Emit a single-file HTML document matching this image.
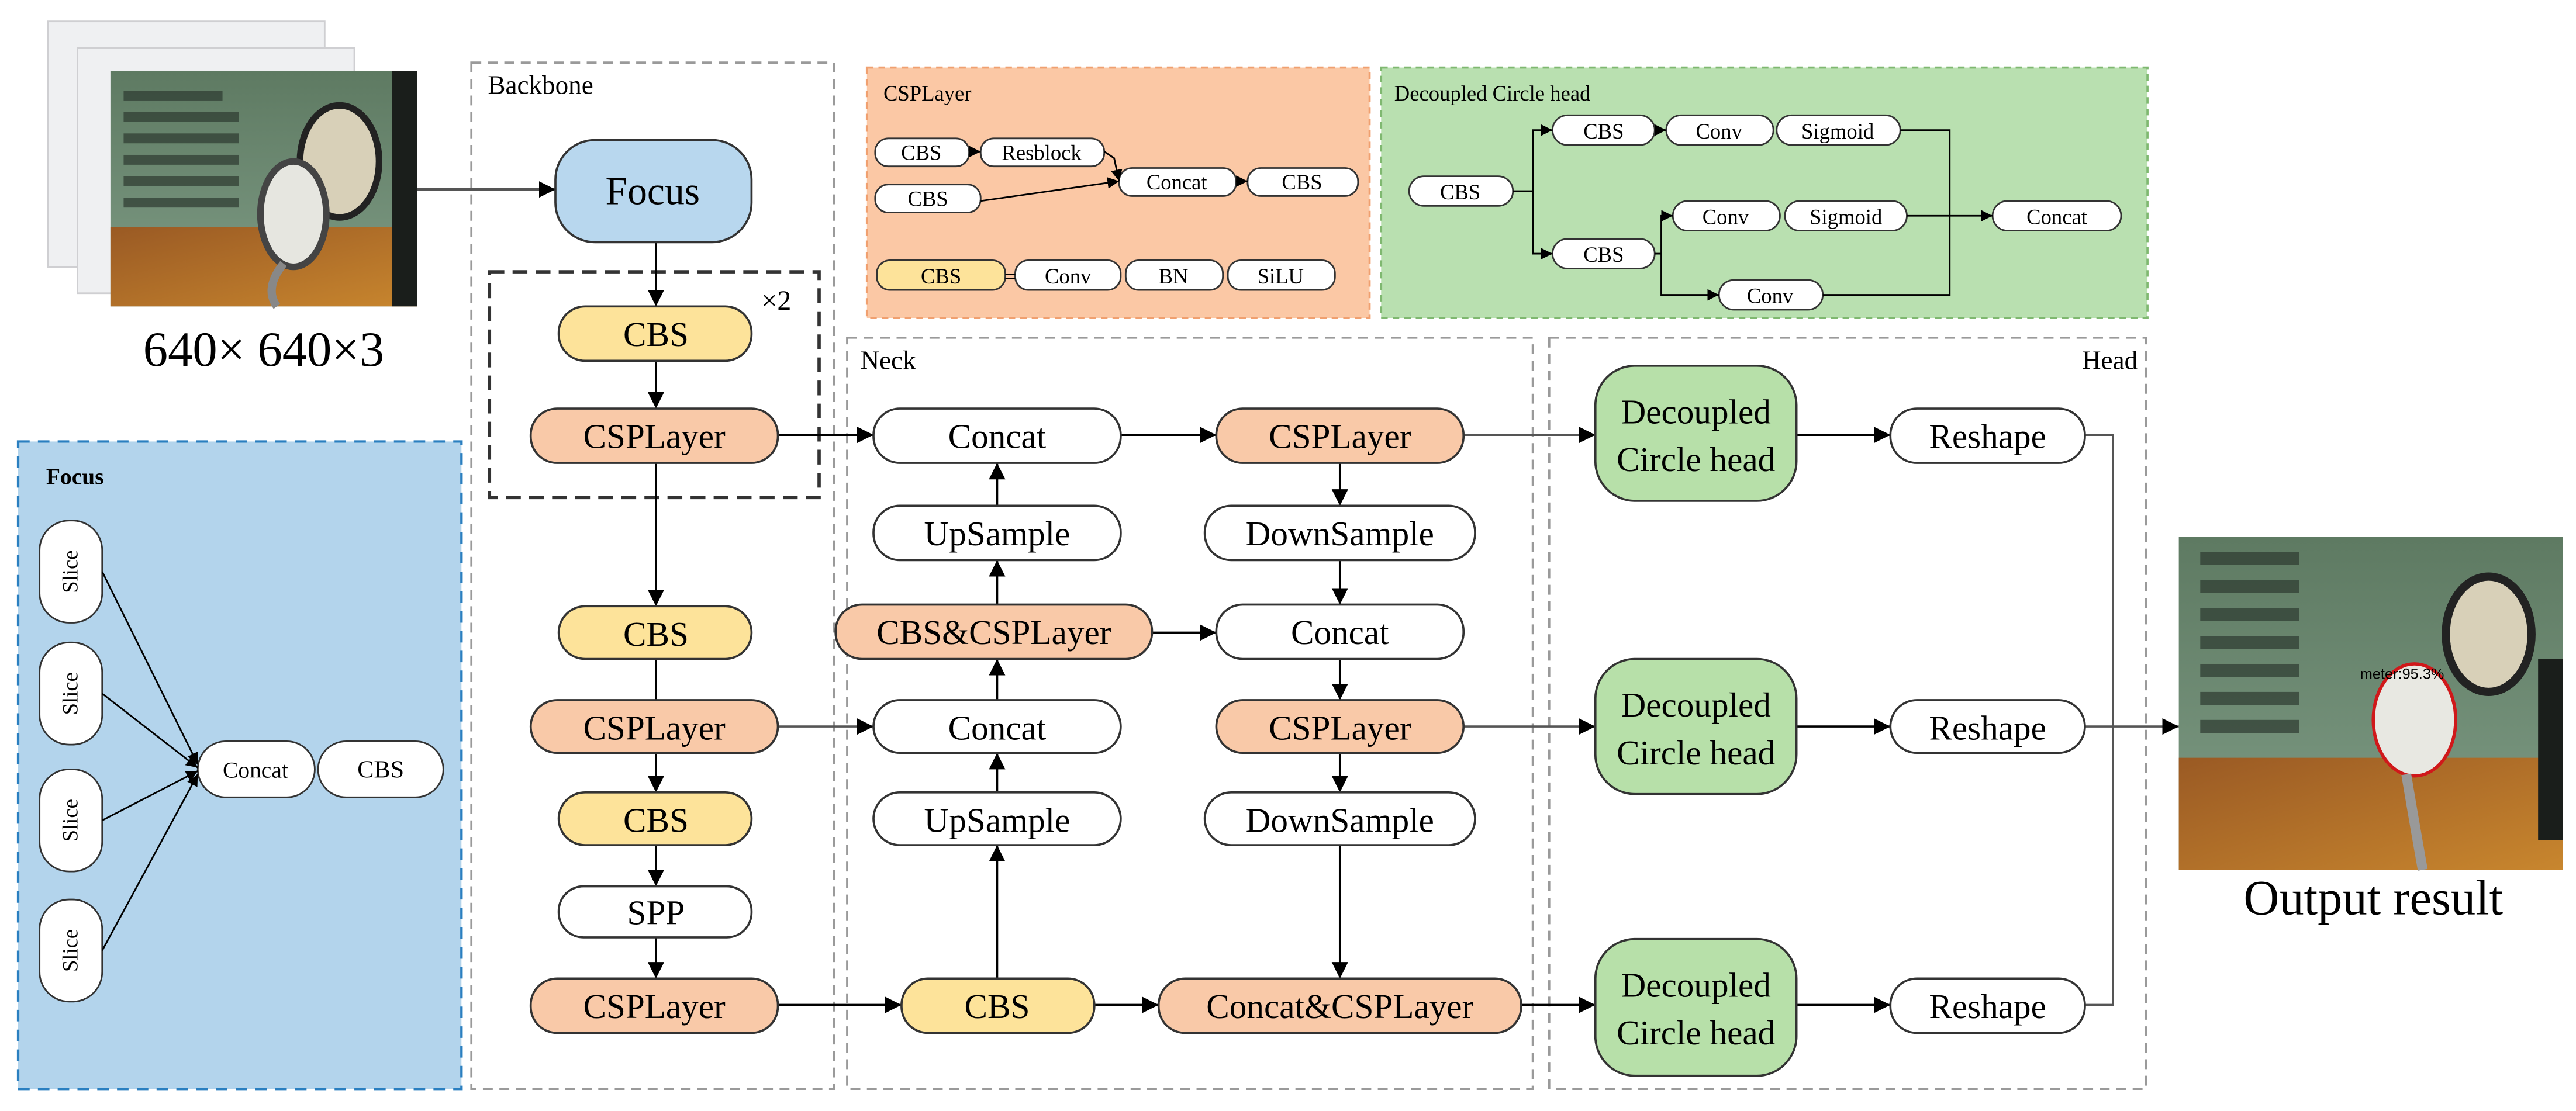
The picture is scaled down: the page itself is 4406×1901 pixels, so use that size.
<!DOCTYPE html>
<html><head><meta charset="utf-8"><style>
html,body{margin:0;padding:0;background:#fff;}
svg{display:block;}
text{font-family:"Liberation Serif",serif;fill:#000;}
</style></head><body>
<svg width="4406" height="1901" viewBox="0 0 1563 674.4" preserveAspectRatio="none" font-family="Liberation Serif, serif" xmlns="http://www.w3.org/2000/svg">
<defs>
<marker id="a" viewBox="0 0 10 10" refX="10" refY="5" markerWidth="7" markerHeight="7" markerUnits="userSpaceOnUse" orient="auto"><path d="M0,0L10,5L0,10z" fill="#000"/></marker>
<marker id="b" viewBox="0 0 10 10" refX="10" refY="5" markerWidth="10" markerHeight="10" markerUnits="userSpaceOnUse" orient="auto"><path d="M0,0L10,5L0,10z" fill="#000"/></marker>
<linearGradient id="glass" x1="0" y1="0" x2="0" y2="1"><stop offset="0" stop-color="#5e7a62"/><stop offset="1" stop-color="#7f9c86"/></linearGradient>
<linearGradient id="wood" x1="0" y1="0" x2="1" y2="1"><stop offset="0" stop-color="#9a5a24"/><stop offset="1" stop-color="#c8862e"/></linearGradient>
</defs>

<rect x="29" y="13" width="168" height="149" fill="#eff0f2" stroke="#cfcfd2"/>
<rect x="47" y="29" width="168" height="149" fill="#eff0f2" stroke="#cfcfd2"/>
<g>
<rect x="67" y="43" width="186" height="143" fill="url(#glass)"/>
<g fill="#2d3a30" opacity="0.7">
<rect x="75" y="55" width="60" height="6"/><rect x="75" y="68" width="70" height="6"/><rect x="75" y="81" width="70" height="6"/><rect x="75" y="94" width="70" height="6"/><rect x="75" y="107" width="70" height="6"/><rect x="75" y="120" width="70" height="6"/>
</g>
<rect x="67" y="138" width="186" height="48" fill="url(#wood)"/>
<rect x="238" y="43" width="15" height="143" fill="#1a1e1b"/>
<ellipse cx="206" cy="98" rx="24" ry="34" fill="#d8d0b8" stroke="#222" stroke-width="4"/>
<ellipse cx="178" cy="130" rx="20" ry="32" fill="#e6e6e0" stroke="#444" stroke-width="4"/>
<path d="M172 160 Q160 175 168 186" stroke="#888" stroke-width="5" fill="none"/>
</g>
<text x="160" y="222" font-size="30" text-anchor="middle">640× 640×3</text>
<line x1="253" y1="115" x2="337" y2="115" stroke="#555" stroke-width="2" marker-end="url(#b)"/>

<rect x="286" y="38" width="220" height="623" fill="none" stroke="#9a9a9a" stroke-width="1.3" stroke-dasharray="6,4"/>
<text x="296" y="57" font-size="16">Backbone</text>
<rect x="297" y="165" width="200" height="137" fill="none" stroke="#333" stroke-width="2" stroke-dasharray="9,5"/>
<text x="462" y="188" font-size="17" fill="#1f5fa8">×2</text>

<rect x="11" y="268" width="269" height="393" fill="#b3d4ec" stroke="#2a7fc0" stroke-width="1.5" stroke-dasharray="7,5"/>
<text x="28" y="294" font-size="14" font-weight="bold">Focus</text>
<g fill="#fff" stroke="#333" stroke-width="1">
<rect x="24" y="316" width="38" height="62" rx="18"/>
<rect x="24" y="390" width="38" height="62" rx="18"/>
<rect x="24" y="467" width="38" height="62" rx="18"/>
<rect x="24" y="546" width="38" height="62" rx="18"/>
<rect x="120" y="450" width="71" height="34" rx="17"/>
<rect x="193" y="450" width="76" height="34" rx="17"/>
</g>
<g font-size="13" text-anchor="middle">
<text transform="translate(47,347) rotate(-90)">Slice</text>
<text transform="translate(47,421) rotate(-90)">Slice</text>
<text transform="translate(47,498) rotate(-90)">Slice</text>
<text transform="translate(47,577) rotate(-90)">Slice</text>
</g>
<text x="155" y="472" font-size="14" text-anchor="middle">Concat</text>
<text x="231" y="472" font-size="15" text-anchor="middle">CBS</text>
<g stroke="#000" stroke-width="1">
<line x1="62" y1="347" x2="120" y2="464" marker-end="url(#a)"/>
<line x1="62" y1="421" x2="120" y2="466" marker-end="url(#a)"/>
<line x1="62" y1="498" x2="120" y2="468" marker-end="url(#a)"/>
<line x1="62" y1="577" x2="120" y2="470" marker-end="url(#a)"/>
</g>

<rect x="526" y="41" width="305" height="152" fill="#fbc8a5" stroke="#f0a070" stroke-width="1.3" stroke-dasharray="4,3"/>
<text x="536" y="61" font-size="13">CSPLayer</text>
<g fill="#fff" stroke="#333" stroke-width="1">
<rect x="531" y="84" width="57" height="17" rx="8"/>
<rect x="595" y="84" width="75" height="17" rx="8"/>
<rect x="531" y="112" width="64" height="17" rx="8"/>
<rect x="679" y="102" width="71" height="17" rx="8"/>
<rect x="757" y="102" width="67" height="17" rx="8"/>
<rect x="532" y="158" width="78" height="18" rx="8" fill="#fde39a"/>
<rect x="616" y="158" width="64" height="18" rx="8"/>
<rect x="683" y="158" width="59" height="18" rx="8"/>
<rect x="745" y="158" width="65" height="18" rx="8"/>
</g>
<g font-size="13" text-anchor="middle">
<text x="559" y="97">CBS</text><text x="632" y="97">Resblock</text><text x="563" y="125">CBS</text>
<text x="714" y="115">Concat</text><text x="790" y="115">CBS</text>
<text x="571" y="172">CBS</text><text x="613" y="172">=</text><text x="648" y="172">Conv</text><text x="712" y="172">BN</text><text x="777" y="172">SiLU</text>
</g>
<g stroke="#000" stroke-width="1" fill="none">
<line x1="588" y1="92" x2="595" y2="92" marker-end="url(#a)"/>
<polyline points="670,92 676,96 679,110" marker-end="url(#a)"/>
<line x1="595" y1="122" x2="679" y2="110" marker-end="url(#a)"/>
<line x1="750" y1="110" x2="757" y2="110" marker-end="url(#a)"/>
</g>

<rect x="838" y="41" width="465" height="152" fill="#b9e0b0" stroke="#7fb870" stroke-width="1.3" stroke-dasharray="4,3"/>
<text x="846" y="61" font-size="13">Decoupled Circle head</text>
<g fill="#fff" stroke="#333" stroke-width="1">
<rect x="855" y="107" width="63" height="18" rx="9"/>
<rect x="942" y="70" width="62" height="18" rx="9"/>
<rect x="1011" y="70" width="65" height="18" rx="9"/>
<rect x="1078" y="70" width="75" height="18" rx="9"/>
<rect x="942" y="145" width="62" height="18" rx="9"/>
<rect x="1015" y="122" width="65" height="18" rx="9"/>
<rect x="1083" y="122" width="74" height="18" rx="9"/>
<rect x="1209" y="122" width="78" height="18" rx="9"/>
<rect x="1043" y="170" width="63" height="18" rx="9"/>
</g>
<g font-size="13" text-anchor="middle">
<text x="886" y="121">CBS</text><text x="973" y="84">CBS</text><text x="1043" y="84">Conv</text><text x="1115" y="84">Sigmoid</text>
<text x="973" y="159">CBS</text><text x="1047" y="136">Conv</text><text x="1120" y="136">Sigmoid</text><text x="1248" y="136">Concat</text><text x="1074" y="184">Conv</text>
</g>
<g stroke="#000" stroke-width="1" fill="none">
<polyline points="918,116 930,116 930,79 942,79" marker-end="url(#a)"/>
<polyline points="930,116 930,154 942,154" marker-end="url(#a)"/>
<line x1="1004" y1="79" x2="1011" y2="79" marker-end="url(#a)"/>
<polyline points="1153,79 1183,79 1183,179 1106,179"/>
<line x1="1157" y1="131" x2="1209" y2="131" marker-end="url(#a)"/>
<polyline points="1004,154 1008,154 1008,131 1015,131" marker-end="url(#a)"/>
<polyline points="1008,154 1008,179 1043,179" marker-end="url(#a)"/>
</g>

<rect x="514" y="205" width="416" height="456" fill="none" stroke="#9a9a9a" stroke-width="1.3" stroke-dasharray="6,4"/>
<text x="522" y="224" font-size="16">Neck</text>
<rect x="940" y="205" width="362" height="456" fill="none" stroke="#9a9a9a" stroke-width="1.3" stroke-dasharray="6,4"/>
<text x="1297" y="224" font-size="16" text-anchor="end">Head</text>

<g stroke="#000" stroke-width="1.3" fill="none">
<line x1="398" y1="147" x2="398" y2="186" marker-end="url(#b)"/>
<line x1="398" y1="219" x2="398" y2="248" marker-end="url(#b)"/>
<line x1="398" y1="281" x2="398" y2="368" marker-end="url(#b)"/>
<line x1="398" y1="400" x2="398" y2="425"/>
<line x1="398" y1="457" x2="398" y2="481" marker-end="url(#b)"/>
<line x1="398" y1="513" x2="398" y2="538" marker-end="url(#b)"/>
<line x1="398" y1="569" x2="398" y2="594" marker-end="url(#b)"/>
<line x1="472" y1="264" x2="530" y2="264" marker-end="url(#b)"/>
<line x1="472" y1="441" x2="530" y2="441" stroke="#555" marker-end="url(#b)"/>
<line x1="472" y1="610" x2="547" y2="610" marker-end="url(#b)"/>
<line x1="605" y1="594" x2="605" y2="513" marker-end="url(#b)"/>
<line x1="605" y1="481" x2="605" y2="457" marker-end="url(#b)"/>
<line x1="605" y1="425" x2="605" y2="400" marker-end="url(#b)"/>
<line x1="605" y1="367" x2="605" y2="340" marker-end="url(#b)"/>
<line x1="605" y1="307" x2="605" y2="281" marker-end="url(#b)"/>
<line x1="680" y1="264" x2="738" y2="264" marker-end="url(#b)"/>
<line x1="813" y1="281" x2="813" y2="307" marker-end="url(#b)"/>
<line x1="813" y1="340" x2="813" y2="367" marker-end="url(#b)"/>
<line x1="699" y1="384" x2="738" y2="384" marker-end="url(#b)"/>
<line x1="813" y1="400" x2="813" y2="425" marker-end="url(#b)"/>
<line x1="813" y1="457" x2="813" y2="481" marker-end="url(#b)"/>
<line x1="813" y1="513" x2="813" y2="594" marker-end="url(#b)"/>
<line x1="664" y1="610" x2="703" y2="610" marker-end="url(#b)"/>
<line x1="888" y1="264" x2="968" y2="264" stroke="#555" marker-end="url(#b)"/>
<line x1="888" y1="441" x2="968" y2="441" stroke="#555" marker-end="url(#b)"/>
<line x1="923" y1="610" x2="968" y2="610" marker-end="url(#b)"/>
<line x1="1090" y1="264" x2="1147" y2="264" marker-end="url(#b)"/>
<line x1="1090" y1="441" x2="1147" y2="441" marker-end="url(#b)"/>
<line x1="1090" y1="610" x2="1147" y2="610" marker-end="url(#b)"/>
<polyline points="1265,264 1282,264 1282,610 1265,610" stroke="#555"/>
<line x1="1265" y1="441" x2="1322" y2="441" stroke="#555" marker-end="url(#b)"/>
</g>

<g stroke="#333" stroke-width="1.3">
<rect x="337" y="85" width="119" height="62" rx="24" fill="#b8d7ee"/>
<rect x="339" y="186" width="117" height="33" rx="16" fill="#fde39a"/>
<rect x="322" y="248" width="150" height="33" rx="16" fill="#f9c9a8"/>
<rect x="339" y="368" width="117" height="32" rx="16" fill="#fde39a"/>
<rect x="322" y="425" width="150" height="32" rx="16" fill="#f9c9a8"/>
<rect x="339" y="481" width="117" height="32" rx="16" fill="#fde39a"/>
<rect x="339" y="538" width="117" height="31" rx="15" fill="#fff"/>
<rect x="322" y="594" width="150" height="33" rx="16" fill="#f9c9a8"/>
<rect x="530" y="248" width="150" height="33" rx="16" fill="#fff"/>
<rect x="738" y="248" width="150" height="33" rx="16" fill="#f9c9a8"/>
<rect x="530" y="307" width="150" height="33" rx="16" fill="#fff"/>
<rect x="731" y="307" width="164" height="33" rx="16" fill="#fff"/>
<rect x="507" y="367" width="192" height="33" rx="16" fill="#f9c9a8"/>
<rect x="738" y="367" width="150" height="33" rx="16" fill="#fff"/>
<rect x="530" y="425" width="150" height="32" rx="16" fill="#fff"/>
<rect x="738" y="425" width="150" height="32" rx="16" fill="#f9c9a8"/>
<rect x="530" y="481" width="150" height="32" rx="16" fill="#fff"/>
<rect x="731" y="481" width="164" height="32" rx="16" fill="#fff"/>
<rect x="547" y="594" width="117" height="33" rx="16" fill="#fde39a"/>
<rect x="703" y="594" width="220" height="33" rx="16" fill="#f9c9a8"/>
<rect x="968" y="222" width="122" height="82" rx="24" fill="#b7e0a9"/>
<rect x="968" y="400" width="122" height="82" rx="24" fill="#b7e0a9"/>
<rect x="968" y="570" width="122" height="83" rx="24" fill="#b7e0a9"/>
<rect x="1147" y="248" width="118" height="33" rx="16" fill="#fff"/>
<rect x="1147" y="425" width="118" height="32" rx="16" fill="#fff"/>
<rect x="1147" y="594" width="118" height="33" rx="16" fill="#fff"/>
</g>
<g font-size="21" text-anchor="middle">
<text x="396" y="124" font-size="24">Focus</text>
<text x="398" y="210">CBS</text>
<text x="397" y="272">CSPLayer</text>
<text x="398" y="392">CBS</text>
<text x="397" y="449">CSPLayer</text>
<text x="398" y="505">CBS</text>
<text x="398" y="561">SPP</text>
<text x="397" y="618">CSPLayer</text>
<text x="605" y="272">Concat</text>
<text x="813" y="272">CSPLayer</text>
<text x="605" y="331">UpSample</text>
<text x="813" y="331">DownSample</text>
<text x="603" y="391">CBS&amp;CSPLayer</text>
<text x="813" y="391">Concat</text>
<text x="605" y="449">Concat</text>
<text x="813" y="449">CSPLayer</text>
<text x="605" y="505">UpSample</text>
<text x="813" y="505">DownSample</text>
<text x="605" y="618">CBS</text>
<text x="813" y="618">Concat&amp;CSPLayer</text>
<text x="1029" y="257">Decoupled</text><text x="1029" y="286">Circle head</text>
<text x="1029" y="435">Decoupled</text><text x="1029" y="464">Circle head</text>
<text x="1029" y="605">Decoupled</text><text x="1029" y="634">Circle head</text>
<text x="1206" y="272">Reshape</text>
<text x="1206" y="449">Reshape</text>
<text x="1206" y="618">Reshape</text>
</g>

<g>
<rect x="1322" y="326" width="233" height="202" fill="url(#glass)"/>
<g fill="#2d3a30" opacity="0.7">
<rect x="1335" y="335" width="60" height="8"/><rect x="1335" y="352" width="60" height="8"/><rect x="1335" y="369" width="60" height="8"/><rect x="1335" y="386" width="60" height="8"/><rect x="1335" y="403" width="60" height="8"/><rect x="1335" y="420" width="60" height="8"/><rect x="1335" y="437" width="60" height="8"/>
</g>
<rect x="1322" y="460" width="233" height="68" fill="url(#wood)"/>
<rect x="1540" y="400" width="15" height="110" fill="#1a1e1b"/>
<ellipse cx="1510" cy="385" rx="26" ry="35" fill="#d8d0b8" stroke="#222" stroke-width="5"/>
<ellipse cx="1465" cy="437" rx="25" ry="34" fill="#e8e8e2" stroke="#d0181a" stroke-width="2"/>
<path d="M1460 470 Q1465 500 1470 528" stroke="#999" stroke-width="6" fill="none"/>
<text x="1432" y="412" font-size="9" fill="#d8d800" style="font-family:'Liberation Sans',sans-serif">meter:95.3%</text>
</g>
<text x="1440" y="555" font-size="30" text-anchor="middle">Output result</text>
</svg>
</body></html>
